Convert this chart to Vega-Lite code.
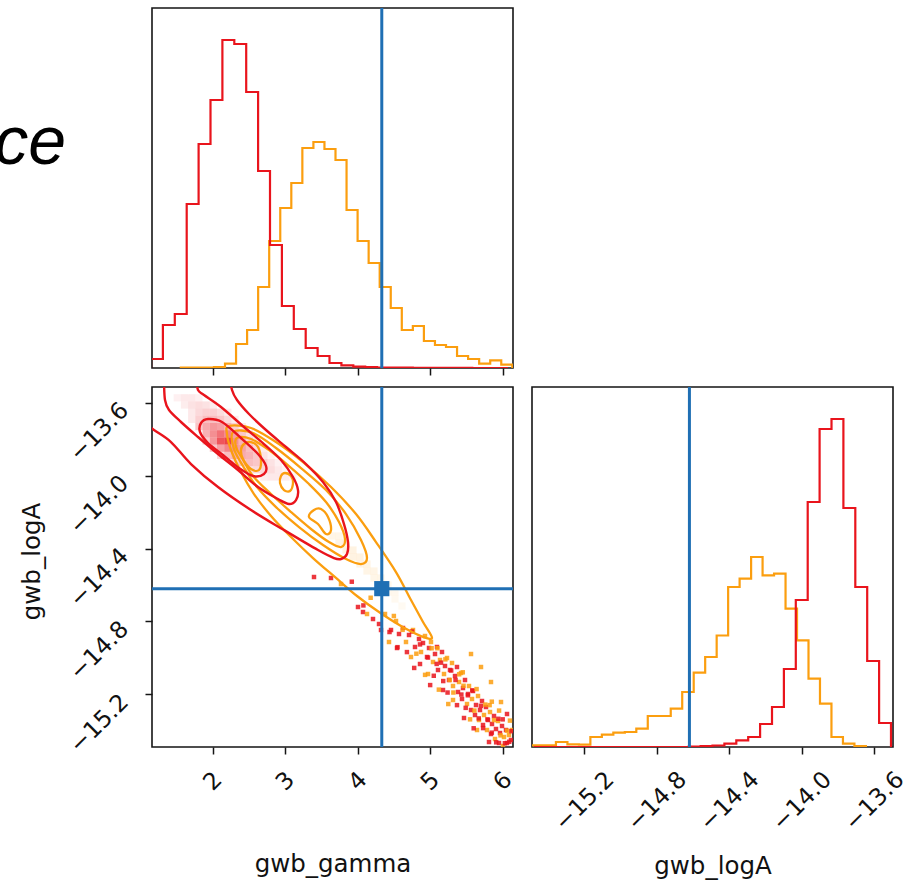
{
"$schema": "https://vega.github.io/schema/vega-lite/v6.json",
"background": "white",
"padding": {"left": -7, "top": 5, "right": 5, "bottom": 5},
"columns": 2,
"spacing": {"row": 19, "column": 19},
"bounds": "flush",
"config": {
"view": {"stroke": "#151515", "strokeWidth": 1.6},
"axis": {"domain": false, "grid": false, "ticks": true, "tickColor": "#151515", "tickWidth": 1.5, "tickSize": 7, "labelFont": "DejaVu Sans", "labelFontSize": 23.5, "labelColor": "#111", "titleFont": "DejaVu Sans", "titleFontSize": 24.5, "titleFontWeight": "normal", "titleColor": "#111", "labelOverlap": false, "labelFlush": false, "labelBound": false}
},
"datasets": {
"hgam": [
{"c":"o","i":0,"g":1.5631,"h":0},{"c":"o","i":1,"g":1.5631,"h":0.3},{"c":"o","i":2,"g":1.7154,"h":0.3},{"c":"o","i":3,"g":1.8677,"h":0.5},{"c":"o","i":4,"g":2.0200,"h":1},{"c":"o","i":5,"g":2.1723,"h":4.3},{"c":"o","i":6,"g":2.3246,"h":24},{"c":"o","i":7,"g":2.4769,"h":38},{"c":"o","i":8,"g":2.6292,"h":81},{"c":"o","i":9,"g":2.7815,"h":127},{"c":"o","i":10,"g":2.9339,"h":160},{"c":"o","i":11,"g":3.0862,"h":185},{"c":"o","i":12,"g":3.2385,"h":220},{"c":"o","i":13,"g":3.3908,"h":226},{"c":"o","i":14,"g":3.5431,"h":219},{"c":"o","i":15,"g":3.6954,"h":208},{"c":"o","i":16,"g":3.8477,"h":158},{"c":"o","i":17,"g":4.0000,"h":127},{"c":"o","i":18,"g":4.1523,"h":105},{"c":"o","i":19,"g":4.3046,"h":81},{"c":"o","i":20,"g":4.4570,"h":60},{"c":"o","i":21,"g":4.6093,"h":38},{"c":"o","i":22,"g":4.7616,"h":42},{"c":"o","i":23,"g":4.9139,"h":27},{"c":"o","i":24,"g":5.0662,"h":23},{"c":"o","i":25,"g":5.2185,"h":21},{"c":"o","i":26,"g":5.3708,"h":12},{"c":"o","i":27,"g":5.5231,"h":9},{"c":"o","i":28,"g":5.6754,"h":4.3},{"c":"o","i":29,"g":5.8278,"h":7.7},{"c":"o","i":30,"g":5.9801,"h":3.3},{"c":"o","i":31,"g":6.1324,"h":3.3},{"c":"o","i":32,"g":6.1324,"h":0},
{"c":"r","i":0,"g":1.1523,"h":0},{"c":"r","i":1,"g":1.1523,"h":9},{"c":"r","i":2,"g":1.3163,"h":43},{"c":"r","i":3,"g":1.4803,"h":54},{"c":"r","i":4,"g":1.6444,"h":164},{"c":"r","i":5,"g":1.8084,"h":224},{"c":"r","i":6,"g":1.9724,"h":268},{"c":"r","i":7,"g":2.1364,"h":328},{"c":"r","i":8,"g":2.3005,"h":324},{"c":"r","i":9,"g":2.4645,"h":276},{"c":"r","i":10,"g":2.6285,"h":197},{"c":"r","i":11,"g":2.7926,"h":123},{"c":"r","i":12,"g":2.9566,"h":62},{"c":"r","i":13,"g":3.1206,"h":39},{"c":"r","i":14,"g":3.2846,"h":20},{"c":"r","i":15,"g":3.4487,"h":12},{"c":"r","i":16,"g":3.6127,"h":5},{"c":"r","i":17,"g":3.7767,"h":2.7},{"c":"r","i":18,"g":3.9407,"h":1.3},{"c":"r","i":19,"g":4.1048,"h":0.8},{"c":"r","i":20,"g":4.2688,"h":0.5},{"c":"r","i":21,"g":4.4328,"h":0.4},{"c":"r","i":22,"g":4.5968,"h":0.3},{"c":"r","i":23,"g":4.7609,"h":0.2},{"c":"r","i":24,"g":4.9249,"h":0.2},{"c":"r","i":25,"g":5.0889,"h":0.1},{"c":"r","i":26,"g":5.2529,"h":0.1},{"c":"r","i":27,"g":5.4170,"h":0.1},{"c":"r","i":28,"g":5.5810,"h":0},{"c":"r","i":29,"g":5.7450,"h":0},{"c":"r","i":30,"g":5.9090,"h":0},{"c":"r","i":31,"g":6.0731,"h":0},{"c":"r","i":32,"g":6.0731,"h":0}
],
"hlog": [
{"c":"o","i":0,"g":-15.5465,"h":0},{"c":"o","i":1,"g":-15.5465,"h":1.7},{"c":"o","i":2,"g":-15.4831,"h":1.7},{"c":"o","i":3,"g":-15.4198,"h":1.7},{"c":"o","i":4,"g":-15.3565,"h":5},{"c":"o","i":5,"g":-15.2931,"h":2.7},{"c":"o","i":6,"g":-15.2298,"h":2.3},{"c":"o","i":7,"g":-15.1665,"h":10},{"c":"o","i":8,"g":-15.1031,"h":12.3},{"c":"o","i":9,"g":-15.0398,"h":14.3},{"c":"o","i":10,"g":-14.9764,"h":15},{"c":"o","i":11,"g":-14.9131,"h":18.3},{"c":"o","i":12,"g":-14.8498,"h":31},{"c":"o","i":13,"g":-14.7864,"h":31},{"c":"o","i":14,"g":-14.7231,"h":38.3},{"c":"o","i":15,"g":-14.6598,"h":55},{"c":"o","i":16,"g":-14.5964,"h":74.3},{"c":"o","i":17,"g":-14.5331,"h":90},{"c":"o","i":18,"g":-14.4697,"h":111.5},{"c":"o","i":19,"g":-14.4064,"h":160},{"c":"o","i":20,"g":-14.3431,"h":168.3},{"c":"o","i":21,"g":-14.2797,"h":190},{"c":"o","i":22,"g":-14.2164,"h":171.7},{"c":"o","i":23,"g":-14.1531,"h":173.3},{"c":"o","i":24,"g":-14.0897,"h":138.3},{"c":"o","i":25,"g":-14.0264,"h":106.7},{"c":"o","i":26,"g":-13.9630,"h":68.3},{"c":"o","i":27,"g":-13.8997,"h":43.3},{"c":"o","i":28,"g":-13.8364,"h":10},{"c":"o","i":29,"g":-13.7730,"h":3.3},{"c":"o","i":30,"g":-13.7097,"h":1},{"c":"o","i":31,"g":-13.6463,"h":1},{"c":"o","i":32,"g":-13.6463,"h":0},
{"c":"r","i":0,"g":-15.4775,"h":0},{"c":"r","i":1,"g":-15.4775,"h":0},{"c":"r","i":2,"g":-15.4119,"h":0},{"c":"r","i":3,"g":-15.3462,"h":0},{"c":"r","i":4,"g":-15.2806,"h":0},{"c":"r","i":5,"g":-15.2149,"h":0},{"c":"r","i":6,"g":-15.1492,"h":0},{"c":"r","i":7,"g":-15.0836,"h":0},{"c":"r","i":8,"g":-15.0179,"h":0},{"c":"r","i":9,"g":-14.9523,"h":0},{"c":"r","i":10,"g":-14.8866,"h":0},{"c":"r","i":11,"g":-14.8210,"h":0},{"c":"r","i":12,"g":-14.7553,"h":0},{"c":"r","i":13,"g":-14.6897,"h":0},{"c":"r","i":14,"g":-14.6240,"h":0.5},{"c":"r","i":15,"g":-14.5583,"h":1},{"c":"r","i":16,"g":-14.4927,"h":1.5},{"c":"r","i":17,"g":-14.4270,"h":3.3},{"c":"r","i":18,"g":-14.3614,"h":6.7},{"c":"r","i":19,"g":-14.2957,"h":10},{"c":"r","i":20,"g":-14.2301,"h":23},{"c":"r","i":21,"g":-14.1644,"h":40},{"c":"r","i":22,"g":-14.0988,"h":78},{"c":"r","i":23,"g":-14.0331,"h":147},{"c":"r","i":24,"g":-13.9674,"h":245},{"c":"r","i":25,"g":-13.9018,"h":318},{"c":"r","i":26,"g":-13.8361,"h":328},{"c":"r","i":27,"g":-13.7705,"h":239},{"c":"r","i":28,"g":-13.7048,"h":160},{"c":"r","i":29,"g":-13.6392,"h":86},{"c":"r","i":30,"g":-13.5735,"h":24},{"c":"r","i":31,"g":-13.5079,"h":24},{"c":"r","i":32,"g":-13.5079,"h":0}
],
"dens": [
{"c":"r","g":1.5145,"l":-13.5732,"d":0.08},{"c":"r","g":1.6140,"l":-13.5732,"d":0.12},{"c":"r","g":1.7135,"l":-13.5732,"d":0.12},{"c":"r","g":1.8130,"l":-13.5732,"d":0.08},
{"c":"r","g":1.6140,"l":-13.6127,"d":0.1},{"c":"r","g":1.7135,"l":-13.6127,"d":0.15},{"c":"r","g":1.8130,"l":-13.6127,"d":0.18},{"c":"r","g":1.9125,"l":-13.6127,"d":0.15},{"c":"r","g":2.0120,"l":-13.6127,"d":0.1},
{"c":"r","g":1.7135,"l":-13.6522,"d":0.12},{"c":"r","g":1.8130,"l":-13.6522,"d":0.2},{"c":"r","g":1.9125,"l":-13.6522,"d":0.25},{"c":"r","g":2.0120,"l":-13.6522,"d":0.25},{"c":"r","g":2.1116,"l":-13.6522,"d":0.18},{"c":"r","g":2.2111,"l":-13.6522,"d":0.1},
{"c":"r","g":1.7135,"l":-13.6917,"d":0.12},{"c":"r","g":1.8130,"l":-13.6917,"d":0.25},{"c":"r","g":1.9125,"l":-13.6917,"d":0.35},{"c":"r","g":2.0120,"l":-13.6917,"d":0.35},{"c":"r","g":2.1116,"l":-13.6917,"d":0.3},{"c":"r","g":2.2111,"l":-13.6917,"d":0.2},{"c":"r","g":2.3106,"l":-13.6917,"d":0.1},
{"c":"r","g":1.8130,"l":-13.7312,"d":0.3},{"c":"r","g":1.9125,"l":-13.7312,"d":0.45},{"c":"r","g":2.0120,"l":-13.7312,"d":0.55},{"c":"r","g":2.1116,"l":-13.7312,"d":0.5},{"c":"r","g":2.2111,"l":-13.7312,"d":0.4},{"c":"r","g":2.3106,"l":-13.7312,"d":0.25},{"c":"r","g":2.4101,"l":-13.7312,"d":0.12},
{"c":"r","g":1.9125,"l":-13.7707,"d":0.4},{"c":"r","g":2.0120,"l":-13.7707,"d":0.6},{"c":"r","g":2.1116,"l":-13.7707,"d":0.75},{"c":"r","g":2.2111,"l":-13.7707,"d":0.65},{"c":"r","g":2.3106,"l":-13.7707,"d":0.5},{"c":"r","g":2.4101,"l":-13.7707,"d":0.3},{"c":"r","g":2.5096,"l":-13.7707,"d":0.15},
{"c":"r","g":1.9125,"l":-13.8102,"d":0.25},{"c":"r","g":2.0120,"l":-13.8102,"d":0.55},{"c":"r","g":2.1116,"l":-13.8102,"d":0.9},{"c":"r","g":2.2111,"l":-13.8102,"d":1.0},{"c":"r","g":2.3106,"l":-13.8102,"d":0.6},{"c":"r","g":2.4101,"l":-13.8102,"d":0.4},{"c":"r","g":2.5096,"l":-13.8102,"d":0.25},{"c":"r","g":2.6091,"l":-13.8102,"d":0.12},
{"c":"r","g":2.0120,"l":-13.8497,"d":0.3},{"c":"r","g":2.1116,"l":-13.8497,"d":0.5},{"c":"r","g":2.2111,"l":-13.8497,"d":0.65},{"c":"r","g":2.3106,"l":-13.8497,"d":0.6},{"c":"r","g":2.4101,"l":-13.8497,"d":0.5},{"c":"r","g":2.5096,"l":-13.8497,"d":0.35},{"c":"r","g":2.6091,"l":-13.8497,"d":0.2},{"c":"r","g":2.7087,"l":-13.8497,"d":0.1},
{"c":"r","g":2.1116,"l":-13.8892,"d":0.2},{"c":"r","g":2.2111,"l":-13.8892,"d":0.35},{"c":"r","g":2.3106,"l":-13.8892,"d":0.45},{"c":"r","g":2.4101,"l":-13.8892,"d":0.45},{"c":"r","g":2.5096,"l":-13.8892,"d":0.4},{"c":"r","g":2.6091,"l":-13.8892,"d":0.3},{"c":"r","g":2.7087,"l":-13.8892,"d":0.15},{"c":"r","g":2.8082,"l":-13.8892,"d":0.08},
{"c":"r","g":2.3106,"l":-13.9287,"d":0.2},{"c":"r","g":2.4101,"l":-13.9287,"d":0.3},{"c":"r","g":2.5096,"l":-13.9287,"d":0.35},{"c":"r","g":2.6091,"l":-13.9287,"d":0.3},{"c":"r","g":2.7087,"l":-13.9287,"d":0.25},{"c":"r","g":2.8082,"l":-13.9287,"d":0.15},{"c":"r","g":2.9077,"l":-13.9287,"d":0.08},
{"c":"r","g":2.5096,"l":-13.9682,"d":0.15},{"c":"r","g":2.6091,"l":-13.9682,"d":0.2},{"c":"r","g":2.7087,"l":-13.9682,"d":0.22},{"c":"r","g":2.8082,"l":-13.9682,"d":0.18},{"c":"r","g":2.9077,"l":-13.9682,"d":0.12},{"c":"r","g":3.0072,"l":-13.9682,"d":0.06},
{"c":"r","g":2.7087,"l":-14.0077,"d":0.1},{"c":"r","g":2.8082,"l":-14.0077,"d":0.12},{"c":"r","g":2.9077,"l":-14.0077,"d":0.12},{"c":"r","g":3.0072,"l":-14.0077,"d":0.1},{"c":"r","g":3.1067,"l":-14.0077,"d":0.06},
{"c":"o","g":3.6471,"l":-14.3313,"d":0.12},{"c":"o","g":3.7436,"l":-14.3313,"d":0.12},{"c":"o","g":3.7436,"l":-14.3697,"d":0.14},{"c":"o","g":3.8401,"l":-14.3697,"d":0.14},{"c":"o","g":3.8401,"l":-14.4081,"d":0.15},{"c":"o","g":3.9366,"l":-14.4081,"d":0.15},{"c":"o","g":3.9366,"l":-14.4465,"d":0.15},{"c":"o","g":4.0331,"l":-14.4465,"d":0.15},{"c":"o","g":4.0331,"l":-14.4849,"d":0.14},{"c":"o","g":4.1296,"l":-14.4849,"d":0.14},{"c":"o","g":4.1296,"l":-14.5233,"d":0.13},{"c":"o","g":4.2260,"l":-14.5233,"d":0.13},{"c":"o","g":4.2260,"l":-14.5617,"d":0.12},{"c":"o","g":4.3225,"l":-14.5617,"d":0.12},{"c":"o","g":4.3225,"l":-14.6000,"d":0.1},{"c":"o","g":4.4190,"l":-14.6000,"d":0.1},{"c":"o","g":4.4190,"l":-14.6384,"d":0.09},{"c":"o","g":4.5155,"l":-14.6384,"d":0.09},{"c":"o","g":4.5155,"l":-14.6768,"d":0.08},{"c":"o","g":4.6120,"l":-14.7152,"d":0.07}
],
"pts": [
{"c":"r","g":3.3990,"l":-14.5562},{"c":"r","g":3.6333,"l":-14.5617},{"c":"o","g":3.7712,"l":-14.5946},{"c":"r","g":4.0055,"l":-14.7207},{"c":"r","g":4.0744,"l":-14.7482},{"c":"o","g":4.1296,"l":-14.7591},{"c":"r","g":4.2123,"l":-14.7866},{"c":"r","g":4.2950,"l":-14.8140},{"c":"o","g":4.3777,"l":-14.7591},{"c":"r","g":4.4604,"l":-14.8469},
{"c":"o","g":4.5293,"l":-14.7975},{"c":"r","g":4.5706,"l":-14.8688},{"c":"r","g":4.6258,"l":-14.8359},{"c":"o","g":4.6671,"l":-14.9127},{"c":"r","g":4.7085,"l":-14.8743},{"c":"o","g":4.7636,"l":-14.8469},{"c":"r","g":4.7912,"l":-14.9401},{"c":"r","g":4.8463,"l":-14.8963},{"c":"o","g":4.8739,"l":-14.9676},{"c":"r","g":4.9014,"l":-14.9182},
{"c":"o","g":4.9290,"l":-14.8798},{"c":"r","g":4.9566,"l":-14.9950},{"c":"r","g":4.9841,"l":-14.9456},{"c":"o","g":5.0117,"l":-14.9127},{"c":"o","g":5.0393,"l":-15.0224},{"c":"r","g":5.0668,"l":-14.9785},{"c":"r","g":5.0944,"l":-14.9401},{"c":"r","g":5.1082,"l":-15.0663},{"c":"o","g":5.1358,"l":-15.0115},{"c":"r","g":5.1633,"l":-14.9676},
{"c":"o","g":5.1909,"l":-15.0883},{"c":"r","g":5.2047,"l":-15.0444},{"c":"o","g":5.2323,"l":-15.0005},{"c":"r","g":5.2598,"l":-15.1212},{"c":"r","g":5.2736,"l":-15.0663},{"c":"o","g":5.3012,"l":-15.0279},{"c":"o","g":5.3150,"l":-15.1541},{"c":"r","g":5.3425,"l":-15.0993},{"c":"r","g":5.3701,"l":-15.0499},{"c":"r","g":5.3839,"l":-15.1870},
{"c":"o","g":5.3977,"l":-15.1322},{"c":"o","g":5.4252,"l":-15.0828},{"c":"r","g":5.4390,"l":-15.2254},{"c":"r","g":5.4528,"l":-15.1651},{"c":"r","g":5.4804,"l":-15.1212},{"c":"o","g":5.5079,"l":-15.2529},{"c":"r","g":5.5217,"l":-15.1980},{"c":"o","g":5.5355,"l":-15.1541},{"c":"r","g":5.5631,"l":-15.2858},{"c":"o","g":5.5769,"l":-15.2254},
{"c":"r","g":5.5907,"l":-15.1815},{"c":"r","g":5.6182,"l":-15.3132},{"c":"r","g":5.6320,"l":-15.2584},{"c":"o","g":5.6596,"l":-15.2090},{"c":"o","g":5.6733,"l":-15.3406},{"c":"r","g":5.6871,"l":-15.2858},{"c":"r","g":5.7147,"l":-15.2364},{"c":"r","g":5.7285,"l":-15.3680},{"c":"o","g":5.7423,"l":-15.3132},{"c":"r","g":5.7698,"l":-15.2694},
{"c":"o","g":5.7836,"l":-15.3955},{"c":"r","g":5.7974,"l":-15.3406},{"c":"o","g":5.8250,"l":-15.2968},{"c":"r","g":5.8387,"l":-15.4174},{"c":"r","g":5.8525,"l":-15.3625},{"c":"r","g":5.8801,"l":-15.3187},{"c":"o","g":5.8939,"l":-15.4449},{"c":"r","g":5.9077,"l":-15.3900},{"c":"o","g":5.9352,"l":-15.3461},{"c":"r","g":5.9490,"l":-15.4668},
{"c":"r","g":5.9628,"l":-15.4120},{"c":"r","g":5.9904,"l":-15.3735},{"c":"o","g":6.0042,"l":-15.4833},{"c":"o","g":6.0179,"l":-15.4339},{"c":"r","g":6.0455,"l":-15.3955},{"c":"r","g":6.0593,"l":-15.4668},{"c":"o","g":6.0869,"l":-15.4229},{"c":"r","g":6.1144,"l":-15.4504},{"c":"o","g":6.1282,"l":-15.3955},{"c":"r","g":4.3225,"l":-14.8469},
{"c":"o","g":4.4328,"l":-14.9127},{"c":"r","g":4.5431,"l":-14.9456},{"c":"o","g":4.7360,"l":-14.9950},{"c":"r","g":4.8601,"l":-15.0334},{"c":"o","g":4.9704,"l":-15.0883},{"c":"r","g":5.1771,"l":-15.1760},{"c":"o","g":5.3150,"l":-15.2309},{"c":"r","g":5.4666,"l":-15.3296},{"c":"o","g":5.6458,"l":-15.3955},{"c":"r","g":5.8112,"l":-15.4614},
{"c":"o","g":5.5631,"l":-14.9786},{"c":"o","g":5.7009,"l":-15.0499},{"c":"o","g":5.8387,"l":-15.1322},{"c":"o","g":5.9766,"l":-15.2419},{"c":"r","g":6.0593,"l":-15.3077},
{"c":"o","g":4.62,"l":-14.846},{"c":"r","g":4.68,"l":-14.968},{"c":"r","g":4.75,"l":-14.855},{"c":"o","g":4.81,"l":-14.977},{"c":"r","g":4.86,"l":-14.926},{"c":"o","g":4.93,"l":-15.093},{"c":"r","g":4.97,"l":-14.998},{"c":"o","g":5.02,"l":-14.947},{"c":"r","g":5.05,"l":-15.098},{"c":"r","g":5.09,"l":-15.033},
{"c":"o","g":5.12,"l":-15.174},{"c":"r","g":5.15,"l":-15.026},{"c":"r","g":5.18,"l":-15.127},{"c":"o","g":5.21,"l":-15.008},{"c":"r","g":5.24,"l":-15.190},{"c":"o","g":5.27,"l":-15.121},{"c":"r","g":5.29,"l":-15.069},{"c":"o","g":5.32,"l":-15.190},{"c":"r","g":5.35,"l":-15.121},{"c":"r","g":5.37,"l":-15.259},
{"c":"o","g":5.40,"l":-15.090},{"c":"r","g":5.43,"l":-15.201},{"c":"o","g":5.46,"l":-15.153},{"c":"r","g":5.49,"l":-15.274},{"c":"r","g":5.52,"l":-15.205},{"c":"o","g":5.55,"l":-15.337},{"c":"r","g":5.58,"l":-15.178},{"c":"o","g":5.61,"l":-15.289},{"c":"o","g":5.64,"l":-15.171},{"c":"r","g":5.67,"l":-15.332},
{"c":"r","g":5.70,"l":-15.263},{"c":"r","g":5.73,"l":-15.385},{"c":"o","g":5.76,"l":-15.256},{"c":"r","g":5.79,"l":-15.337},{"c":"o","g":5.82,"l":-15.259},{"c":"r","g":5.85,"l":-15.410},{"c":"o","g":5.88,"l":-15.341},{"c":"r","g":5.91,"l":-15.463},{"c":"r","g":5.94,"l":-15.334},{"c":"o","g":5.97,"l":-15.425},
{"c":"r","g":6.00,"l":-15.337},{"c":"r","g":6.03,"l":-15.468},{"c":"o","g":6.06,"l":-15.399},{"c":"r","g":6.09,"l":-15.460},{"c":"r","g":6.12,"l":-15.402},{"c":"r","g":4.55,"l":-14.941},{"c":"o","g":4.50,"l":-14.770},{"c":"r","g":4.44,"l":-14.858},{"c":"o","g":4.18,"l":-14.670},{"c":"r","g":4.08,"l":-14.712},
{"c":"r","g":3.92,"l":-14.582},{"c":"r","g":5.00,"l":-15.149},{"c":"o","g":5.25,"l":-15.253},{"c":"r","g":5.60,"l":-15.386},{"c":"o","g":5.85,"l":-15.240},{"c":"o","g":5.45,"l":-15.079},{"c":"o","g":5.10,"l":-14.947},{"c":"r","g":4.78,"l":-15.055},{"c":"o","g":5.95,"l":-15.289},{"c":"o","g":6.10,"l":-15.344}
],
"copen": [
{"k":"R3","c":"r","i":0,"g":1.0834,"l":-13.7169},{"k":"R3","c":"r","i":1,"g":1.1937,"l":-13.7498},{"k":"R3","c":"r","i":2,"g":1.4280,"l":-13.8157},{"k":"R3","c":"r","i":3,"g":1.7037,"l":-13.9364},{"k":"R3","c":"r","i":4,"g":2.0758,"l":-14.0626},{"k":"R3","c":"r","i":5,"g":2.5307,"l":-14.1888},{"k":"R3","c":"r","i":6,"g":2.9855,"l":-14.2986},{"k":"R3","c":"r","i":7,"g":3.4542,"l":-14.4083},{"k":"R3","c":"r","i":8,"g":3.6747,"l":-14.4522},{"k":"R3","c":"r","i":9,"g":3.7711,"l":-14.4577},{"k":"R3","c":"r","i":10,"g":3.8539,"l":-14.4303},{"k":"R3","c":"r","i":11,"g":3.8677,"l":-14.3645},{"k":"R3","c":"r","i":12,"g":3.8126,"l":-14.2657},{"k":"R3","c":"r","i":13,"g":3.7022,"l":-14.1450},{"k":"R3","c":"r","i":14,"g":3.5230,"l":-14.0352},{"k":"R3","c":"r","i":15,"g":3.2887,"l":-13.9364},{"k":"R3","c":"r","i":16,"g":3.0131,"l":-13.8431},{"k":"R3","c":"r","i":17,"g":2.7374,"l":-13.7498},{"k":"R3","c":"r","i":18,"g":2.5031,"l":-13.6621},{"k":"R3","c":"r","i":19,"g":2.3377,"l":-13.5853},{"k":"R3","c":"r","i":20,"g":2.2688,"l":-13.5304},{"k":"R3","c":"r","i":21,"g":2.2550,"l":-13.4755},
{"k":"R2","c":"r","i":0,"g":1.3316,"l":-13.4755},{"k":"R2","c":"r","i":1,"g":1.3453,"l":-13.5853},{"k":"R2","c":"r","i":2,"g":1.4005,"l":-13.6401},{"k":"R2","c":"r","i":3,"g":1.5658,"l":-13.7059},{"k":"R2","c":"r","i":4,"g":1.8002,"l":-13.7882},{"k":"R2","c":"r","i":5,"g":2.0758,"l":-13.8815},{"k":"R2","c":"r","i":6,"g":2.3515,"l":-13.9693},{"k":"R2","c":"r","i":7,"g":2.6272,"l":-14.0626},{"k":"R2","c":"r","i":8,"g":2.9028,"l":-14.1285},{"k":"R2","c":"r","i":9,"g":3.0544,"l":-14.1559},{"k":"R2","c":"r","i":10,"g":3.1509,"l":-14.1340},{"k":"R2","c":"r","i":11,"g":3.1785,"l":-14.0791},{"k":"R2","c":"r","i":12,"g":3.1095,"l":-14.0077},{"k":"R2","c":"r","i":13,"g":2.9442,"l":-13.9145},{"k":"R2","c":"r","i":14,"g":2.7099,"l":-13.8267},{"k":"R2","c":"r","i":15,"g":2.4342,"l":-13.7334},{"k":"R2","c":"r","i":16,"g":2.1172,"l":-13.6237},{"k":"R2","c":"r","i":17,"g":1.8829,"l":-13.5578},{"k":"R2","c":"r","i":18,"g":1.8002,"l":-13.5304},{"k":"R2","c":"r","i":19,"g":1.7864,"l":-13.4755}
],
"cclosed": [
{"k":"O4","c":"o","i":0,"g":2.2274,"l":-13.7278},{"k":"O4","c":"o","i":1,"g":2.5307,"l":-13.7388},{"k":"O4","c":"o","i":2,"g":2.8753,"l":-13.8157},{"k":"O4","c":"o","i":3,"g":3.2474,"l":-13.9254},{"k":"O4","c":"o","i":4,"g":3.6333,"l":-14.0626},{"k":"O4","c":"o","i":5,"g":3.9779,"l":-14.2108},{"k":"O4","c":"o","i":6,"g":4.2536,"l":-14.3645},{"k":"O4","c":"o","i":7,"g":4.5292,"l":-14.5291},{"k":"O4","c":"o","i":8,"g":4.7360,"l":-14.6823},{"k":"O4","c":"o","i":9,"g":4.9015,"l":-14.8034},{"k":"O4","c":"o","i":10,"g":5.0255,"l":-14.8908},{"k":"O4","c":"o","i":11,"g":4.8738,"l":-14.8801},{"k":"O4","c":"o","i":12,"g":4.5982,"l":-14.8249},{"k":"O4","c":"o","i":13,"g":4.2949,"l":-14.7485},{"k":"O4","c":"o","i":14,"g":3.9917,"l":-14.6604},{"k":"O4","c":"o","i":15,"g":3.7022,"l":-14.5616},{"k":"O4","c":"o","i":16,"g":3.3853,"l":-14.4522},{"k":"O4","c":"o","i":17,"g":3.0820,"l":-14.3370},{"k":"O4","c":"o","i":18,"g":2.8063,"l":-14.2215},{"k":"O4","c":"o","i":19,"g":2.5720,"l":-14.1010},{"k":"O4","c":"o","i":20,"g":2.3928,"l":-13.9803},{"k":"O4","c":"o","i":21,"g":2.2550,"l":-13.8596},{"k":"O4","c":"o","i":22,"g":2.1999,"l":-13.7718},
{"k":"O3","c":"o","i":0,"g":2.2826,"l":-13.7608},{"k":"O3","c":"o","i":1,"g":2.5582,"l":-13.7662},{"k":"O3","c":"o","i":2,"g":2.8753,"l":-13.8485},{"k":"O3","c":"o","i":3,"g":3.2198,"l":-13.9584},{"k":"O3","c":"o","i":4,"g":3.5644,"l":-14.0791},{"k":"O3","c":"o","i":5,"g":3.8400,"l":-14.2108},{"k":"O3","c":"o","i":6,"g":4.0468,"l":-14.3532},{"k":"O3","c":"o","i":7,"g":4.1295,"l":-14.4522},{"k":"O3","c":"o","i":8,"g":4.0468,"l":-14.4852},{"k":"O3","c":"o","i":9,"g":3.8400,"l":-14.4577},{"k":"O3","c":"o","i":10,"g":3.5230,"l":-14.3806},{"k":"O3","c":"o","i":11,"g":3.1923,"l":-14.2821},{"k":"O3","c":"o","i":12,"g":2.8753,"l":-14.1724},{"k":"O3","c":"o","i":13,"g":2.6134,"l":-14.0626},{"k":"O3","c":"o","i":14,"g":2.4204,"l":-13.9472},{"k":"O3","c":"o","i":15,"g":2.2964,"l":-13.8541},
{"k":"O2","c":"o","i":0,"g":2.3377,"l":-13.7937},{"k":"O2","c":"o","i":1,"g":2.5307,"l":-13.7992},{"k":"O2","c":"o","i":2,"g":2.7788,"l":-13.8596},{"k":"O2","c":"o","i":3,"g":3.0544,"l":-13.9474},{"k":"O2","c":"o","i":4,"g":3.3301,"l":-14.0462},{"k":"O2","c":"o","i":5,"g":3.5644,"l":-14.1450},{"k":"O2","c":"o","i":6,"g":3.7436,"l":-14.2547},{"k":"O2","c":"o","i":7,"g":3.8263,"l":-14.3480},{"k":"O2","c":"o","i":8,"g":3.7711,"l":-14.3919},{"k":"O2","c":"o","i":9,"g":3.6057,"l":-14.3645},{"k":"O2","c":"o","i":10,"g":3.3576,"l":-14.2928},{"k":"O2","c":"o","i":11,"g":3.0820,"l":-14.1998},{"k":"O2","c":"o","i":12,"g":2.8063,"l":-14.1010},{"k":"O2","c":"o","i":13,"g":2.5582,"l":-14.0022},{"k":"O2","c":"o","i":14,"g":2.4066,"l":-13.9035},{"k":"O2","c":"o","i":15,"g":2.3239,"l":-13.8431},
{"k":"O1a","c":"o","i":0,"g":2.4342,"l":-13.8267},{"k":"O1a","c":"o","i":1,"g":2.5307,"l":-13.8157},{"k":"O1a","c":"o","i":2,"g":2.6272,"l":-13.8431},{"k":"O1a","c":"o","i":3,"g":2.6685,"l":-13.9145},{"k":"O1a","c":"o","i":4,"g":2.6410,"l":-13.9693},{"k":"O1a","c":"o","i":5,"g":2.5307,"l":-13.9638},{"k":"O1a","c":"o","i":6,"g":2.4204,"l":-13.9090},{"k":"O1a","c":"o","i":7,"g":2.3928,"l":-13.8596},
{"k":"O1b","c":"o","i":0,"g":2.9993,"l":-13.9856},{"k":"O1b","c":"o","i":1,"g":3.0820,"l":-14.0022},{"k":"O1b","c":"o","i":2,"g":3.1095,"l":-14.0405},{"k":"O1b","c":"o","i":3,"g":3.0682,"l":-14.0844},{"k":"O1b","c":"o","i":4,"g":2.9855,"l":-14.0791},{"k":"O1b","c":"o","i":5,"g":2.9304,"l":-14.0405},{"k":"O1b","c":"o","i":6,"g":2.9442,"l":-14.0022},
{"k":"O1c","c":"o","i":0,"g":3.3990,"l":-14.1888},{"k":"O1c","c":"o","i":1,"g":3.4955,"l":-14.1834},{"k":"O1c","c":"o","i":2,"g":3.5920,"l":-14.2273},{"k":"O1c","c":"o","i":3,"g":3.6333,"l":-14.2986},{"k":"O1c","c":"o","i":4,"g":3.5644,"l":-14.3206},{"k":"O1c","c":"o","i":5,"g":3.4541,"l":-14.2657},{"k":"O1c","c":"o","i":6,"g":3.3301,"l":-14.2273},
{"k":"R1","c":"r","i":0,"g":1.8415,"l":-13.7114},{"k":"R1","c":"r","i":1,"g":1.9380,"l":-13.6895},{"k":"R1","c":"r","i":2,"g":2.1310,"l":-13.7059},{"k":"R1","c":"r","i":3,"g":2.3928,"l":-13.7937},{"k":"R1","c":"r","i":4,"g":2.6272,"l":-13.8815},{"k":"R1","c":"r","i":5,"g":2.7374,"l":-13.9472},{"k":"R1","c":"r","i":6,"g":2.7099,"l":-13.9913},{"k":"R1","c":"r","i":7,"g":2.5582,"l":-14.0022},{"k":"R1","c":"r","i":8,"g":2.3653,"l":-13.9584},{"k":"R1","c":"r","i":9,"g":2.1447,"l":-13.8870},{"k":"R1","c":"r","i":10,"g":1.9380,"l":-13.8212},{"k":"R1","c":"r","i":11,"g":1.8277,"l":-13.7608}
]
},
"concat": [
{
"width": 361, "height": 360,
"layer": [
{"data": {"name": "hgam"}, "mark": {"type": "line", "interpolate": "step-after", "strokeWidth": 2.2, "clip": true},
 "encoding": {
  "x": {"field": "g", "type": "quantitative", "scale": {"domain": [1.16609, 6.14197], "nice": false, "zero": false}, "axis": {"values": [2,3,4,5,6], "labels": false, "title": null}},
  "y": {"field": "h", "type": "quantitative", "scale": {"domain": [0, 360], "nice": false, "zero": false}, "axis": null},
  "color": {"field": "c", "type": "nominal", "scale": {"domain": ["r","o"], "range": ["#e9141c","#fb9e0f"]}, "legend": null},
  "order": {"field": "i", "type": "quantitative"}}},
{"data": {"values": [{"g": 4.3333}]}, "mark": {"type": "rule", "color": "#1f6fb4", "strokeWidth": 3},
 "encoding": {"x": {"field": "g", "type": "quantitative"}}},
{"data": {"values": [{"g": -0.0193, "h": 204, "t": "ce"}]}, "mark": {"type": "text", "align": "right", "baseline": "alphabetic", "font": "Liberation Sans", "fontStyle": "italic", "fontSize": 68, "color": "#000"},
 "encoding": {"x": {"field": "g", "type": "quantitative"}, "y": {"field": "h", "type": "quantitative"}, "text": {"field": "t", "type": "nominal"}}}
]
},
{"width": 361, "height": 360, "data": {"values": []}, "mark": "point", "view": {"stroke": null}},
{
"width": 361, "height": 360,
"layer": [
{"data": {"name": "dens"}, "mark": {"type": "square", "size": 52, "strokeWidth": 0, "filled": true},
 "encoding": {
  "x": {"field": "g", "type": "quantitative", "scale": {"domain": [1.16609, 6.14197], "nice": false, "zero": false}, "axis": {"values": [2,3,4,5,6], "format": "d", "title": "gwb_gamma", "labelAngle": -45, "labelAlign": "center", "labelBaseline": "middle", "labelPadding": 27, "titleY": 124.5, "titleBaseline": "alphabetic"}},
  "y": {"field": "l", "type": "quantitative", "scale": {"domain": [-15.4887, -13.5139], "nice": false, "zero": false}, "axis": {"values": [-15.2,-14.8,-14.4,-14.0,-13.6], "format": ".1f", "title": "gwb_logA", "labelAngle": -45, "labelAlign": "center", "labelBaseline": "middle", "labelPadding": 46, "labelOffset": 29, "titleX": -113, "titleY": 174, "titleBaseline": "alphabetic"}},
  "color": {"field": "c", "type": "nominal", "scale": {"domain": ["r","o"], "range": ["#e9141c","#fb9e0f"]}, "legend": null},
  "opacity": {"field": "d", "type": "quantitative", "scale": {"domain": [0, 1], "range": [0, 0.8]}, "legend": null}}},
{"data": {"name": "pts"}, "mark": {"type": "square", "size": 20, "opacity": 0.85, "filled": true, "clip": true},
 "encoding": {"x": {"field": "g", "type": "quantitative"}, "y": {"field": "l", "type": "quantitative"},
  "color": {"field": "c", "type": "nominal", "scale": {"domain": ["r","o"], "range": ["#e9141c","#fb9e0f"]}, "legend": null}}},
{"data": {"name": "cclosed"}, "transform": [{"filter": "datum.c == 'o'"}], "mark": {"type": "line", "interpolate": "cardinal-closed", "strokeWidth": 2.3, "clip": true},
 "encoding": {"x": {"field": "g", "type": "quantitative"}, "y": {"field": "l", "type": "quantitative"}, "detail": {"field": "k", "type": "nominal"},
  "color": {"field": "c", "type": "nominal", "scale": {"domain": ["r","o"], "range": ["#e9141c","#fb9e0f"]}, "legend": null}, "order": {"field": "i", "type": "quantitative"}}},
{"data": {"name": "cclosed"}, "transform": [{"filter": "datum.c == 'r'"}], "mark": {"type": "line", "interpolate": "cardinal-closed", "strokeWidth": 2.4, "clip": true},
 "encoding": {"x": {"field": "g", "type": "quantitative"}, "y": {"field": "l", "type": "quantitative"}, "detail": {"field": "k", "type": "nominal"},
  "color": {"field": "c", "type": "nominal", "scale": {"domain": ["r","o"], "range": ["#e9141c","#fb9e0f"]}, "legend": null}, "order": {"field": "i", "type": "quantitative"}}},
{"data": {"name": "copen"}, "mark": {"type": "line", "interpolate": "cardinal", "strokeWidth": 2.4, "clip": true},
 "encoding": {"x": {"field": "g", "type": "quantitative"}, "y": {"field": "l", "type": "quantitative"}, "detail": {"field": "k", "type": "nominal"},
  "color": {"field": "c", "type": "nominal", "scale": {"domain": ["r","o"], "range": ["#e9141c","#fb9e0f"]}, "legend": null}, "order": {"field": "i", "type": "quantitative"}}},
{"data": {"values": [{"g": 4.3333}]}, "mark": {"type": "rule", "color": "#1f6fb4", "strokeWidth": 3},
 "encoding": {"x": {"field": "g", "type": "quantitative"}}},
{"data": {"values": [{"l": -14.62}]}, "mark": {"type": "rule", "color": "#1f6fb4", "strokeWidth": 3},
 "encoding": {"y": {"field": "l", "type": "quantitative"}}},
{"data": {"values": [{"g": 4.3333, "l": -14.62}]}, "mark": {"type": "square", "size": 230, "color": "#1f6fb4", "opacity": 1, "filled": true},
 "encoding": {"x": {"field": "g", "type": "quantitative"}, "y": {"field": "l", "type": "quantitative"}}}
]
},
{
"width": 361, "height": 360,
"layer": [
{"data": {"name": "hlog"}, "mark": {"type": "line", "interpolate": "step-after", "strokeWidth": 2.2, "clip": true},
 "encoding": {
  "x": {"field": "g", "type": "quantitative", "scale": {"domain": [-15.48855, -13.49683], "nice": false, "zero": false}, "axis": {"values": [-15.2,-14.8,-14.4,-14.0,-13.6], "format": ".1f", "title": "gwb_logA", "labelAngle": -45, "labelAlign": "center", "labelBaseline": "middle", "labelPadding": 47, "titleY": 126, "titleBaseline": "alphabetic"}},
  "y": {"field": "h", "type": "quantitative", "scale": {"domain": [0, 360], "nice": false, "zero": false}, "axis": null},
  "color": {"field": "c", "type": "nominal", "scale": {"domain": ["r","o"], "range": ["#e9141c","#fb9e0f"]}, "legend": null},
  "order": {"field": "i", "type": "quantitative"}}},
{"data": {"values": [{"g": -14.62}]}, "mark": {"type": "rule", "color": "#1f6fb4", "strokeWidth": 3},
 "encoding": {"x": {"field": "g", "type": "quantitative"}}}
]
}
]
}
